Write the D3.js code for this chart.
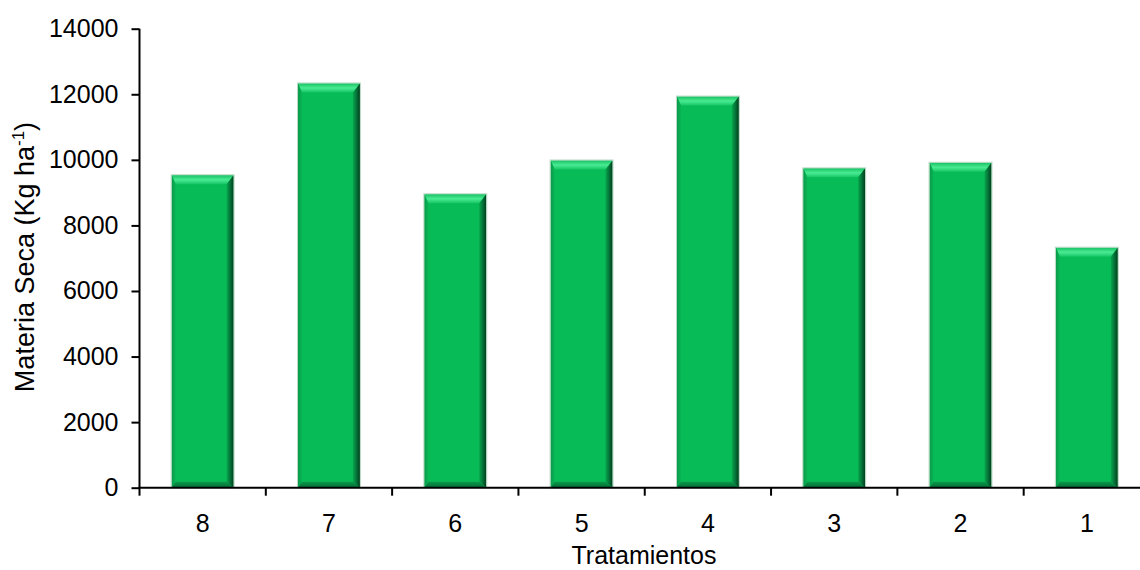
<!DOCTYPE html>
<html><head><meta charset="utf-8">
<script src="https://cdn.jsdelivr.net/npm/d3@7"></script>
<style>body{margin:0;background:#fff}svg{display:block}text{font-family:"Liberation Sans",Arial,sans-serif;fill:#000}</style>
</head><body><svg id="c" width="1140" height="570"></svg>
<script>
const categories = ["8","7","6","5","4","3","2","1"];
const values = [9530, 12330, 8950, 9980, 11930, 9740, 9910, 7320];
const yTicks = [0,2000,4000,6000,8000,10000,12000,14000];
const xTitle = "Tratamientos";

const svg = d3.select("#c");
const x = d3.scaleBand().domain(categories).range([139.5, 1150]).paddingInner(0.51).paddingOuter(0.255);
const xAxisScale = d3.scalePoint().domain(d3.range(categories.length+1)).range([139.5,1150]);
const y = d3.scaleLinear().domain([0,14000]).range([487.7, 28.7]);

const defs = svg.append("defs");
function lg(id, x1,y1,x2,y2, stops){
  const g = defs.append("linearGradient").attr("id",id).attr("x1",x1).attr("y1",y1).attr("x2",x2).attr("y2",y2);
  stops.forEach(s=>g.append("stop").attr("offset",s[0]).attr("stop-color",s[1]));
}
lg("gTop",0,0,0,1,[[0,"#17c264"],[0.5,"#4aeb92"],[1,"#16c665"]]);
lg("gRight",0,0,1,0,[[0,"#07a64c"],[0.5,"#05743a"],[1,"#023d1c"]]);
lg("gLeft",0,0,1,0,[[0,"#0a9a4a"],[1,"#08b556"]]);
lg("gBot",0,0,0,1,[[0,"#099a49"],[1,"#066a37"]]);

const bw = x.bandwidth();
const bt = 9, br = 7, bl = 4, bb = 6;
const g = svg.append("g");
categories.forEach((c,i)=>{
  const x0 = x(c), x1 = x0+bw, y0 = y(values[i]), y1 = y(0);
  const b = g.append("g");
  b.append("rect").attr("x",x0).attr("y",y0).attr("width",bw).attr("height",y1-y0).attr("fill","#07bb57");
  b.append("polygon").attr("points",[[x0,y0],[x1,y0],[x1-br,y0+bt],[x0+bl,y0+bt]].join(" ")).attr("fill","url(#gTop)");
  b.append("polygon").attr("points",[[x1,y0],[x1,y1],[x1-br,y1-bb],[x1-br,y0+bt]].join(" ")).attr("fill","url(#gRight)");
  b.append("polygon").attr("points",[[x0,y0],[x0+bl,y0+bt],[x0+bl,y1-bb],[x0,y1]].join(" ")).attr("fill","url(#gLeft)");
  b.append("polygon").attr("points",[[x0,y1],[x0+bl,y1-bb],[x1-br,y1-bb],[x1,y1]].join(" ")).attr("fill","url(#gBot)");
  b.append("rect").attr("x",x0-0.5).attr("y",y0-0.5).attr("width",bw+1).attr("height",y1-y0+0.5).attr("fill","none").attr("stroke","#b8d8c4").attr("stroke-width",1);
});

// y axis
const ya = svg.append("g").attr("transform","translate(139.5,0)")
  .call(d3.axisLeft(y).tickValues(yTicks).tickSize(8).tickPadding(13).tickFormat(d3.format("d")));
ya.select(".domain").attr("stroke","#000").attr("stroke-width",2).attr("d",`M0,${y(14000)}V${y(0)}`);
ya.selectAll(".tick line").attr("stroke","#000").attr("stroke-width",2);
ya.selectAll("text").style("font-size","25px").attr("fill","#000");

// x axis
const xa = svg.append("g").attr("transform",`translate(0,${y(0)})`);
xa.append("line").attr("x1",138.5).attr("x2",1150).attr("y1",0).attr("y2",0).attr("stroke","#000").attr("stroke-width",2);
xa.selectAll("line.t").data(d3.range(categories.length+1)).join("line").attr("class","t")
  .attr("x1",d=>xAxisScale(d)).attr("x2",d=>xAxisScale(d)).attr("y1",0).attr("y2",8).attr("stroke","#000").attr("stroke-width",2);
xa.selectAll("text.l").data(categories).join("text").attr("class","l")
  .attr("x",d=>x(d)+bw/2).attr("y",44).attr("text-anchor","middle").style("font-size","25px").text(d=>d);

svg.append("text").attr("x",644).attr("y",564).attr("text-anchor","middle").style("font-size","25px").text(xTitle);

const yl = svg.append("text").attr("transform","translate(34,257) rotate(-90)").attr("text-anchor","middle").style("font-size","27px");
yl.append("tspan").text("Materia Seca (Kg ha");
yl.append("tspan").attr("dy",-10).style("font-size","17px").text("-1");
yl.append("tspan").attr("dy",10).text(")");
</script></body></html>
